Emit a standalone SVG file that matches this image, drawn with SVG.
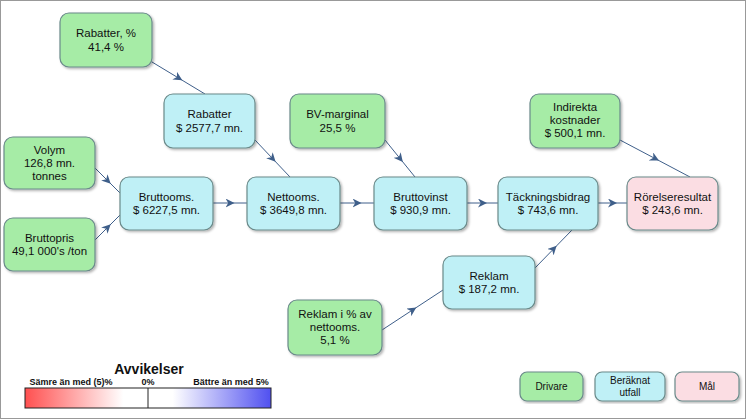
<svg xmlns="http://www.w3.org/2000/svg" width="746" height="419" viewBox="0 0 746 419">
<defs>
<style>
.n rect{stroke:#6a8a8a;stroke-width:1.2}
.d rect{fill:#a6eca6}
.c rect{fill:#bff0f6}
.g rect{fill:#fbdde3}
text{font-family:"Liberation Sans",Arial,sans-serif;font-size:11.5px;fill:#111;text-anchor:middle}
.cn path{fill:none;stroke:#3f5f8a;stroke-width:1;marker-mid:url(#a)}
</style>
<marker id="a" viewBox="0 0 10 10" refX="5" refY="5" markerWidth="9" markerHeight="9" orient="auto" markerUnits="userSpaceOnUse"><path d="M0,0 L10,5 L0,10 L3,5 Z" fill="#3f5f8a"/></marker>
<linearGradient id="gr" x1="0" x2="1"><stop offset="0" stop-color="#ff5050"/><stop offset="0.4" stop-color="#fff"/><stop offset="0.6" stop-color="#fff"/><stop offset="1" stop-color="#5050f0"/></linearGradient>
<filter id="s"><feDropShadow dx="1.5" dy="1.5" stdDeviation="1" flood-color="#000" flood-opacity="0.3"/></filter>
</defs>
<rect x="0.5" y="0.5" width="745" height="418" fill="#fff" stroke="#999"/>
<g class="cn">
<path d="M152,62 L178.5,78 L205,94"/>
<path d="M255,140 L272.5,158.5 L290,177"/>
<path d="M385,140 L400,158.5 L415,177"/>
<path d="M620,140 L655,158.5 L690,177"/>
<path d="M95,168 L107.5,180.5 L120,193"/>
<path d="M95,240 L107.5,227.5 L120,215"/>
<path d="M213,203 L230,203 L247,203"/>
<path d="M340,203 L357,203 L374,203"/>
<path d="M467,203 L482.5,203 L498,203"/>
<path d="M598,203 L612.5,203 L627,203"/>
<path d="M382,330 L412.5,310 L443,290"/>
<path d="M535,268 L553.5,249 L572,230"/>
</g>
<g id="rabatter-pct" class="n d"><rect x="60" y="13" width="92" height="54" rx="9" filter="url(#s)"/><text x="106" y="37">Rabatter, %</text><text x="106" y="51">41,4 %</text></g>
<g id="rabatter" class="n c"><rect x="164" y="94" width="91" height="54" rx="9" filter="url(#s)"/><text x="209.5" y="118">Rabatter</text><text x="209.5" y="132">$ 2577,7 mn.</text></g>
<g id="bv-marginal" class="n d"><rect x="290" y="94" width="95" height="54" rx="9" filter="url(#s)"/><text x="337.5" y="118">BV-marginal</text><text x="337.5" y="132">25,5 %</text></g>
<g id="indirekta" class="n d"><rect x="530" y="94" width="90" height="54" rx="9" filter="url(#s)"/><text x="575" y="111">Indirekta</text><text x="575" y="124">kostnader</text><text x="575" y="137">$ 500,1 mn.</text></g>
<g id="volym" class="n d"><rect x="4" y="137" width="91" height="52" rx="9" filter="url(#s)"/><text x="49.5" y="154">Volym</text><text x="49.5" y="167">126,8 mn.</text><text x="49.5" y="180">tonnes</text></g>
<g id="bruttopris" class="n d"><rect x="4" y="218" width="91" height="53" rx="9" filter="url(#s)"/><text x="49.5" y="242">Bruttopris</text><text x="49.5" y="255">49,1 000's /ton</text></g>
<g id="bruttooms" class="n c"><rect x="120" y="177" width="93" height="53" rx="9" filter="url(#s)"/><text x="166.5" y="201">Bruttooms.</text><text x="166.5" y="214">$ 6227,5 mn.</text></g>
<g id="nettooms" class="n c"><rect x="247" y="177" width="93" height="53" rx="9" filter="url(#s)"/><text x="293.5" y="201">Nettooms.</text><text x="293.5" y="214">$ 3649,8 mn.</text></g>
<g id="bruttovinst" class="n c"><rect x="374" y="177" width="93" height="53" rx="9" filter="url(#s)"/><text x="420.5" y="201">Bruttovinst</text><text x="420.5" y="214">$ 930,9 mn.</text></g>
<g id="tackningsbidrag" class="n c"><rect x="498" y="177" width="100" height="53" rx="9" filter="url(#s)"/><text x="548" y="201">Täckningsbidrag</text><text x="548" y="214">$ 743,6 mn.</text></g>
<g id="rorelseresultat" class="n g"><rect x="627" y="177" width="91" height="53" rx="9" filter="url(#s)"/><text x="672.5" y="201">Rörelseresultat</text><text x="672.5" y="214">$ 243,6 mn.</text></g>
<g id="reklam" class="n c"><rect x="443" y="256" width="92" height="53" rx="9" filter="url(#s)"/><text x="489" y="280">Reklam</text><text x="489" y="293">$ 187,2 mn.</text></g>
<g id="reklam-pct" class="n d"><rect x="288" y="300" width="94" height="55" rx="9" filter="url(#s)"/><text x="335" y="318">Reklam i % av</text><text x="335" y="331">nettooms.</text><text x="335" y="344">5,1 %</text></g>
<g id="legend-drivare" class="n d"><rect x="520" y="372" width="63" height="29" rx="7" filter="url(#s)"/><text x="551.5" y="390" style="font-size:10px">Drivare</text></g>
<g id="legend-beraknat" class="n c"><rect x="595" y="372" width="70" height="29" rx="7" filter="url(#s)"/><text x="630" y="384" style="font-size:10px">Beräknat</text><text x="630" y="396" style="font-size:10px">utfall</text></g>
<g id="legend-mal" class="n g"><rect x="675" y="372" width="64" height="29" rx="7" filter="url(#s)"/><text x="707" y="390" style="font-size:10px">Mål</text></g>
<g id="avvikelser">
<text x="149" y="374" style="font-size:14px;font-weight:bold">Avvikelser</text>
<text x="71" y="385" style="font-size:9px;font-weight:bold">Sämre än med (5)%</text>
<text x="148" y="385" style="font-size:9px;font-weight:bold">0%</text>
<text x="231" y="385" style="font-size:9px;font-weight:bold">Bättre än med 5%</text>
<rect x="25" y="388" width="246" height="20" fill="url(#gr)" stroke="#222"/>
<line x1="148" y1="388" x2="148" y2="408" stroke="#222"/>
</g>
</svg>
